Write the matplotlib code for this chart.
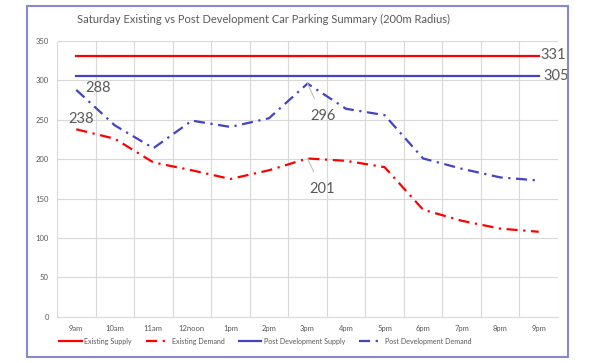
import matplotlib.pyplot as plt
from matplotlib.patches import Rectangle

plt.rcParams['font.family'] = ['Lato', 'DejaVu Sans']

times = ['9am', '10am', '11am', '12noon', '1pm', '2pm', '3pm',
         '4pm', '5pm', '6pm', '7pm', '8pm', '9pm']
existing_supply = [331] * 13
post_supply = [305] * 13
existing_demand = [238, 226, 196, 186, 175, 186, 201, 198, 190, 136, 122, 112, 108]
post_demand = [288, 243, 214, 249, 241, 252, 296, 264, 256, 201, 188, 177, 173]

RED = '#ff0000'
BLUE = '#4343c4'
GREY = '#595959'

fig = plt.figure(figsize=(6, 3.63), dpi=100)
ax = fig.add_axes([0.095, 0.127, 0.835, 0.76])

x = list(range(len(times)))
dashdot = (0, (5, 2.5, 1, 2.5))
ax.plot(x, existing_supply, color=RED, lw=1.6, label='Existing Supply')
ax.plot(x, existing_demand, color=RED, lw=1.6, ls=dashdot, label='Existing Demand')
ax.plot(x, post_supply, color=BLUE, lw=1.6, label='Post Development Supply')
ax.plot(x, post_demand, color=BLUE, lw=1.6, ls=dashdot, label='Post Development Demand')

ax.set_xlim(-0.5, 12.5)
ax.set_ylim(0, 350)
ax.set_xticks(x)
ax.set_xticklabels(times)
ax.set_yticks(range(0, 351, 50))
ax.set_xticks([i - 0.5 for i in range(14)], minor=True)
ax.grid(axis='y', color='#d9d9d9', lw=0.8)
ax.grid(axis='x', which='minor', color='#d9d9d9', lw=0.8)
ax.tick_params(axis='both', which='both', length=0, labelsize=5.5, colors=GREY, pad=6)
for s in ['top', 'right', 'left']:
    ax.spines[s].set_visible(False)
ax.spines['bottom'].set_color('#d9d9d9')
ax.set_axisbelow(True)

lab = dict(color=GREY, fontsize=10.5, ha='center', va='center')
ax.text(12.37, existing_supply[-1] + 1, '331', clip_on=False, **lab)
ax.text(12.45, post_supply[-1], '305', clip_on=False, **lab)
ax.text(0.57, 290, '288', **lab)
ax.text(0.12, 251, '238', **lab)
leader = dict(arrowstyle='-', color='#bfbfbf', lw=0.8, shrinkA=6, shrinkB=0)
ax.annotate('296', xy=(6, post_demand[6]), xytext=(6.39, 255), arrowprops=leader, **lab)
ax.annotate('201', xy=(6, existing_demand[6]), xytext=(6.37, 162), arrowprops=leader, **lab)

fig.text(0.439, 0.945, 'Saturday Existing vs Post Development Car Parking Summary (200m Radius)',
         ha='center', va='center', fontsize=8.0, color=GREY)

fig.legend(loc='center', bbox_to_anchor=(0.442, 0.06), ncol=4, frameon=False,
           fontsize=5.1, labelcolor=GREY, handlelength=3.2, columnspacing=2.0, handletextpad=0.4)

fig.patches.append(Rectangle((27 / 600, 6 / 363), 541 / 600, 351 / 363, transform=fig.transFigure,
                             fill=False, edgecolor='#8a88cc', lw=1.5))

fig.savefig('out.png', dpi=100)
